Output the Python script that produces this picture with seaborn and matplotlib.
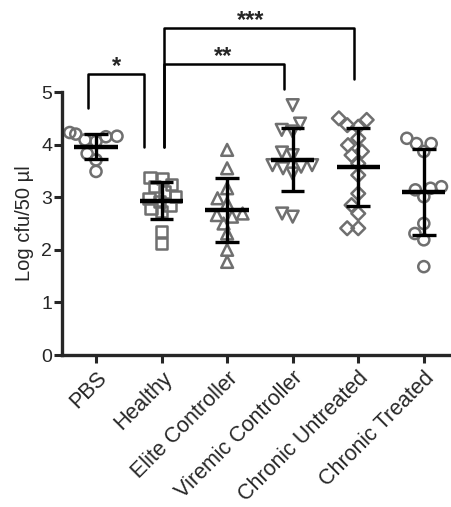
import matplotlib
matplotlib.use("Agg")
import matplotlib.pyplot as plt
import seaborn as sns
import pandas as pd
import numpy as np

categories = ["PBS", "Healthy", "Elite Controller", "Viremic Controller",
              "Chronic Untreated", "Chronic Treated"]

pbs = [4.23, 4.09, 4.15, 4.16, 4.20, 4.06, 3.83, 3.71, 3.49]
healthy = [3.38, 3.35, 3.25, 3.20, 3.10, 3.02, 2.98, 2.92, 2.85, 2.78, 2.72, 2.35, 2.12]
elite = [3.90, 3.55, 3.17, 2.98, 2.88, 2.69, 2.66, 2.63, 2.50, 2.31, 2.00, 1.77]
viremic = [4.75, 4.40, 4.28, 4.25, 3.85, 3.80, 3.61, 3.61, 3.58, 3.55, 3.45, 2.69, 2.63]
untreated = [4.50, 4.47, 4.37, 4.34, 4.12, 3.99, 3.87, 3.80, 3.64, 3.42, 3.07, 2.85,
             2.69, 2.41, 2.41]
treated = [4.12, 4.02, 4.02, 3.87, 3.20, 3.17, 3.14, 3.01, 2.50, 2.31, 2.19, 1.68]

means = [3.96, 2.93, 2.75, 3.71, 3.57, 3.10]
sds = [0.24, 0.35, 0.61, 0.60, 0.74, 0.81]

markers = ["o", "s", "^", "v", "D", "o"]
marker_sizes = [8.0, 8.0, 8.5, 8.5, 7.0, 8.0]

groups = [pbs, healthy, elite, viremic, untreated, treated]

y_ticks = [0, 1, 2, 3, 4, 5]
y_label = "Log cfu/50 µl"

# significance brackets: (x_left, x_right, top, left_leg_bottom, right_leg_bottom, label, text_x)
brackets = [
    (-0.12, 0.73, 5.34, 4.70, 3.95, "*", 0.32),
    (1.04, 2.87, 5.53, 3.95, 5.06, "**", 1.94),
    (1.04, 3.93, 6.21, 3.95, 5.25, "***", 2.36),
]

sns.set_style("ticks")
plt.rcParams["font.family"] = ["Liberation Sans", "DejaVu Sans"]

fig = plt.figure(figsize=(4.52, 5.07), dpi=100)
ax = fig.add_axes([0.137, 0.2998, 0.863, 0.5187])

gray = "#6f6f6f"
layout_size = 7.6
swarm_colls = []
for cat, vals, mk, ms in zip(categories, groups, markers, marker_sizes):
    df = pd.DataFrame({"group": [cat] * len(vals), "value": vals})
    n_before = len(ax.collections)
    sns.swarmplot(data=df, x="group", y="value", order=categories, marker=mk,
                  size=layout_size, color=gray, ax=ax, zorder=2, warn_thresh=1.0)
    for coll in ax.collections[n_before:]:
        swarm_colls.append((coll, ms))

ax.set_xlim(-0.52, 5.43)
ax.set_ylim(0, 5)

# compute swarm positions, then freeze them and set final marker style
fig.canvas.draw()
for coll, ms in swarm_colls:
    if "draw" in coll.__dict__:
        del coll.__dict__["draw"]
    coll.set_sizes([ms ** 2])
    coll.set_facecolor("none")
    coll.set_edgecolor(gray)
    coll.set_linewidth(1.8)

pos = np.arange(len(categories))
m = np.array(means)
s = np.array(sds)
ax.hlines(m, pos - 0.33, pos + 0.33, color="black", lw=3.2, zorder=3)
ax.vlines(pos, m - s, m + s, color="black", lw=2.4, zorder=3)
ax.hlines(m + s, pos - 0.18, pos + 0.18, color="black", lw=2.4, zorder=3)
ax.hlines(m - s, pos - 0.18, pos + 0.18, color="black", lw=2.4, zorder=3)

for x1, x2, top, b1, b2, lab, tx in brackets:
    ax.plot([x1, x1, x2, x2], [b1, top, top, b2], color="black", lw=1.8,
            clip_on=False, zorder=3)
    ax.text(tx, top + 0.02, lab, ha="center", va="baseline", fontsize=17,
            fontweight="bold")

ax.set_yticks(y_ticks)
ax.set_ylabel(y_label, fontsize=14.5, labelpad=5)
ax.set_xlabel("")
ax.set_xticks(pos)
ax.set_xticklabels(categories, rotation=45, ha="right", rotation_mode="anchor",
                   fontsize=15.5)
ax.tick_params(axis="y", labelsize=14, length=6, width=2.2, pad=1)
ax.tick_params(axis="x", length=6, width=2.2, pad=3)
for sp in ["top", "right"]:
    ax.spines[sp].set_visible(False)
for sp in ["left", "bottom"]:
    ax.spines[sp].set_linewidth(2.4)

fig.savefig("out.png", dpi=100)
